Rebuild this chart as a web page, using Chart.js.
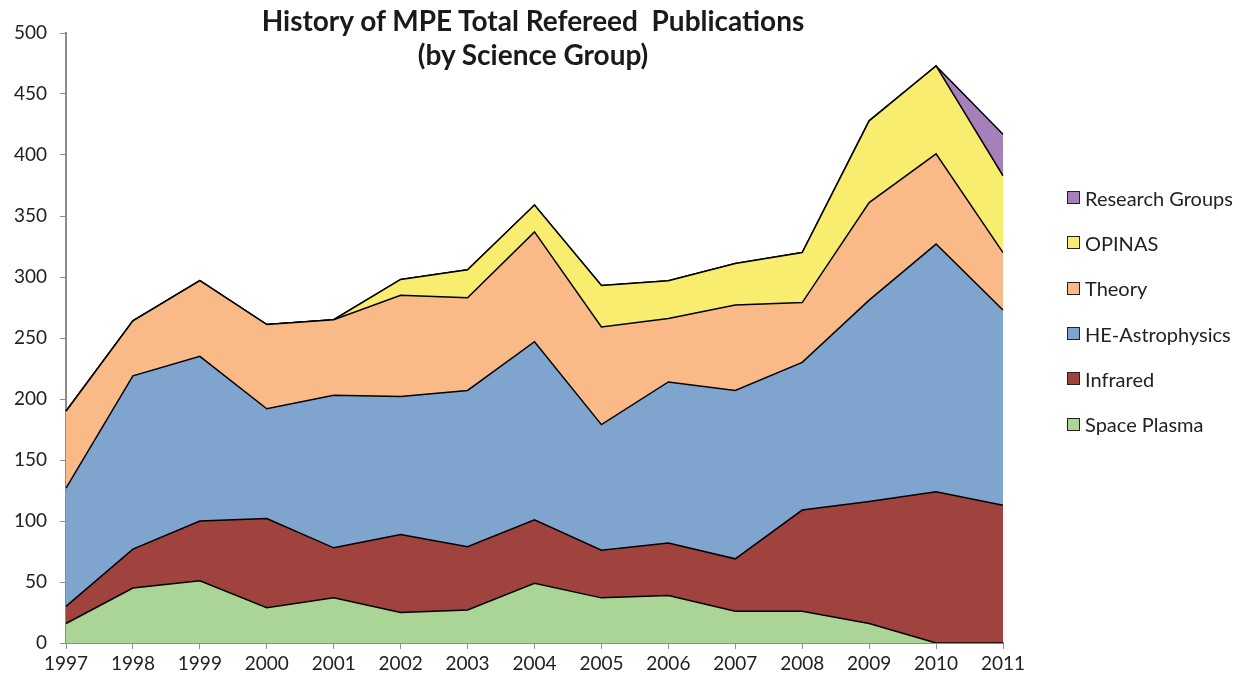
<!DOCTYPE html>
<html>
<head>
<meta charset="utf-8">
<title>History of MPE Total Refereed Publications</title>
<script src="https://cdn.jsdelivr.net/npm/chart.js@4/dist/chart.umd.min.js"></script>
<style>
  body { margin: 0; background: #fff; font-family: Lato, sans-serif; }
  #wrap { position: relative; width: 1245px; height: 685px; }
  #title {
    position: absolute; left: 133px; width: 800px; top: 3px;
    text-align: center; font-weight: bold; font-size: 28px; line-height: 34px; color: #1a1a1a;
  }
  #legend { position: absolute; left: 1067px; top: 175px; }
  .item { display: flex; align-items: center; height: 45.3px; font-size: 20px; color: #222; }
  .box { width: 11px; height: 11px; border: 1px solid #222; margin-right: 5px; }
</style>
</head>
<body>
<div id="wrap">
  <canvas id="pubs" width="1245" height="685"></canvas>
  <div id="title">History of MPE Total Refereed&nbsp; Publications<br>(by Science Group)</div>
  <div id="legend"></div>
</div>
<script>
var years = ["1997", "1998", "1999", "2000", "2001", "2002", "2003", "2004",
  "2005", "2006", "2007", "2008", "2009", "2010", "2011"];

var spacePlasma = [16, 45, 51, 29, 37, 25, 27, 49, 37, 39, 26, 26, 16, 0, 0];
var infrared = [14, 32, 49, 73, 41, 64, 52, 52, 39, 43, 43, 83, 100, 124, 113];
var heAstro = [97, 142, 135, 90, 125, 113, 128, 146, 103, 132, 138, 121, 165, 203, 160];
var theory = [63, 45, 62, 69, 62, 83, 76, 90, 80, 52, 70, 49, 80, 74, 47];
var opinas = [0, 0, 0, 0, 0, 13, 23, 22, 34, 31, 34, 41, 67, 72, 63];
var researchGroups = [0, 0, 0, 0, 0, 0, 0, 0, 0, 0, 0, 0, 0, 0, 34];

var groups = [
  { label: "Space Plasma", data: spacePlasma, color: "#abd597" },
  { label: "Infrared", data: infrared, color: "#a0423d" },
  { label: "HE-Astrophysics", data: heAstro, color: "#7fa4cd" },
  { label: "Theory", data: theory, color: "#f9ba87" },
  { label: "OPINAS", data: opinas, color: "#f8ed6f" },
  { label: "Research Groups", data: researchGroups, color: "#a680bb" }
];

var datasets = groups.map(function (g, i) {
  return {
    label: g.label,
    data: g.data,
    backgroundColor: g.color,
    borderColor: "#000",
    borderWidth: 1.5,
    fill: i === 0 ? "origin" : "-1",
    pointRadius: 0,
    tension: 0
  };
});

// legend in reverse order, like the original
var legend = document.getElementById("legend");
groups.slice().reverse().forEach(function (g) {
  var item = document.createElement("div");
  item.className = "item";
  item.innerHTML = '<span class="box" style="background:' + g.color + '"></span>' + g.label;
  legend.appendChild(item);
});

new Chart(document.getElementById("pubs"), {
  type: "line",
  data: { labels: years, datasets: datasets },
  options: {
    responsive: false,
    animation: false,
    layout: { padding: { top: 33, right: 242, left: 0, bottom: 0 } },
    plugins: {
      legend: { display: false },
      tooltip: { enabled: false }
    },
    scales: {
      x: {
        offset: false,
        grid: { display: true, drawOnChartArea: false, drawTicks: true, tickLength: 6, color: "#8c8c8c" },
        border: { color: "#8c8c8c", width: 2 },
        ticks: { color: "#222", font: { family: "Lato", size: 19 }, padding: 3, maxRotation: 0, autoSkip: false },
        afterFit: function (scale) { scale.height = 42; }
      },
      y: {
        stacked: true,
        min: 0,
        max: 500,
        grid: { display: true, drawOnChartArea: false, drawTicks: true, tickLength: 6, color: "#8c8c8c" },
        border: { color: "#8c8c8c", width: 2 },
        ticks: { stepSize: 50, color: "#222", font: { family: "Lato", size: 19 }, padding: 13 },
        afterFit: function (scale) { scale.width = 66; }
      }
    }
  }
});
</script>
</body>
</html>
